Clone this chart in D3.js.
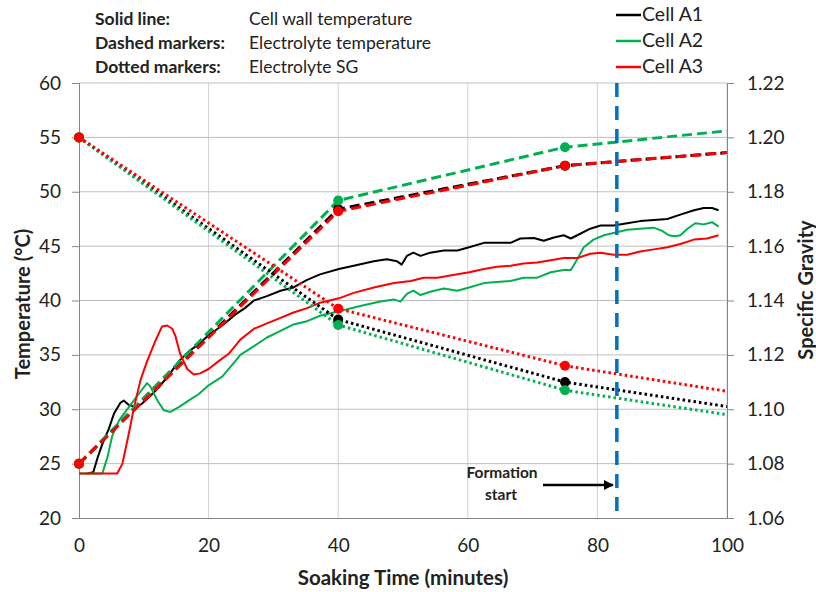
<!DOCTYPE html>
<html>
<head>
<meta charset="utf-8">
<script src="https://cdn.jsdelivr.net/npm/d3@7"></script>
<style>
  body { margin: 0; background: #fff; }
  svg text { font-family: Lato, "Open Sans", sans-serif; fill: #222; }
</style>
</head>
<body>
<div class="chart"></div>
<script>
// series names
var cells = ["Cell A1", "Cell A2", "Cell A3"];

// cell wall temperature (solid lines)
var wallTimeA1 = [1.3, 2.2, 2.9, 3.6, 4.6, 5.4, 6.4, 6.9, 7.7, 8.7, 9.7, 10.8, 12.3, 13.8, 15.4, 16.9, 18.5, 20, 22.1, 24.1, 25.6, 27, 29, 31.1, 33.1, 35.2, 37.2, 40.1, 42.4, 45.5, 47.5, 49.1, 49.8, 50.6, 51.6, 52.7, 54.2, 56.3, 58.4, 60.2, 62.5, 64.5, 66.6, 68.1, 70.2, 71.7, 73.3, 74.8, 75.9, 76.9, 78.9, 80.5, 82.5, 84.6, 86.6, 88.7, 90.8, 92.8, 94.9, 96.4, 97.7, 98.7];
var wallTempA1 = [24.1, 24.2, 25.6, 26.8, 28.2, 29.6, 30.6, 30.8, 30.4, 30.2, 30.5, 31.1, 32.0, 33.1, 34.4, 35.3, 36.0, 36.8, 37.7, 38.7, 39.3, 40.0, 40.4, 40.9, 41.2, 41.9, 42.4, 42.9, 43.2, 43.6, 43.8, 43.6, 43.3, 44.1, 44.4, 44.1, 44.4, 44.6, 44.6, 44.9, 45.3, 45.3, 45.3, 45.7, 45.75, 45.5, 45.8, 46.0, 45.7, 46.0, 46.6, 46.9, 46.9, 47.1, 47.3, 47.4, 47.5, 47.9, 48.3, 48.5, 48.5, 48.3];

var wallTimeA2 = [0, 3.6, 4.4, 5.1, 6.2, 7.7, 9.2, 10.5, 11, 12.1, 13.1, 14.1, 15.4, 16.9, 18.5, 20, 22.1, 24.1, 24.9, 27, 29, 31.1, 33.1, 35.2, 37.2, 39.3, 41.4, 43.4, 46.5, 48.6, 49.6, 50.6, 51.6, 52.7, 54.2, 56.3, 58.4, 60.2, 62.5, 64.5, 66.6, 68.6, 70.7, 72.8, 74.8, 75.9, 76.9, 77.9, 79.4, 81, 82.5, 84.6, 86.6, 88.7, 90, 91, 92, 92.8, 93.9, 95.1, 96.4, 97.7, 98.7];
var wallTempA2 = [24.1, 24.1, 25.6, 27.5, 29.0, 30.2, 31.4, 32.4, 32.1, 30.8, 29.9, 29.75, 30.2, 30.8, 31.4, 32.2, 33.0, 34.4, 35.0, 35.8, 36.6, 37.2, 37.8, 38.1, 38.6, 38.9, 39.2, 39.5, 39.9, 40.1, 39.9, 40.6, 40.9, 40.5, 40.8, 41.1, 40.9, 41.2, 41.6, 41.7, 41.8, 42.1, 42.1, 42.6, 42.8, 42.8, 43.8, 44.9, 45.6, 46.0, 46.2, 46.5, 46.6, 46.7, 46.4, 46.0, 45.9, 46.0, 46.6, 47.1, 47.0, 47.2, 46.8];

var wallTimeA3 = [0, 5.9, 6.7, 7.7, 8.5, 9.5, 10.5, 11.8, 12.8, 13.6, 14.4, 14.9, 15.6, 16.7, 17.7, 18.7, 20, 21.5, 23.1, 24.9, 27, 29, 31.1, 33.1, 35.2, 37.2, 40.1, 42.4, 45.5, 48.6, 51.2, 53.2, 55.3, 57.3, 60.2, 62.5, 64.5, 66.6, 68.6, 70.7, 72.8, 74.8, 76.9, 78.9, 80.5, 82.5, 84.6, 86.6, 88.7, 90.8, 92.8, 94.9, 96.9, 98.7];
var wallTempA3 = [24.1, 24.1, 25.0, 27.8, 30.2, 32.7, 34.4, 36.3, 37.6, 37.7, 37.4, 36.7, 35.1, 33.7, 33.2, 33.3, 33.7, 34.4, 35.1, 36.4, 37.4, 37.9, 38.4, 38.9, 39.3, 39.8, 40.2, 40.7, 41.2, 41.6, 41.8, 42.1, 42.1, 42.3, 42.6, 42.9, 43.1, 43.2, 43.4, 43.5, 43.7, 43.9, 43.9, 44.3, 44.4, 44.2, 44.2, 44.5, 44.7, 44.9, 45.2, 45.6, 45.7, 46.0];

// electrolyte temperature (dashed) and SG (dotted), sampled at 0, 40, 75 min; last value is the line end at 100
var sampleTimes = [0, 40, 75, 100];
var measuredCount = 3;
var elecTempA1 = [25, 48.4, 52.4, 53.6];
var elecTempA2 = [25, 49.2, 54.1, 55.6];
var elecTempA3 = [25, 48.2, 52.4, 53.6];
var sgA1 = [1.200, 1.133, 1.110, 1.101];
var sgA2 = [1.200, 1.131, 1.107, 1.098];
var sgA3 = [1.200, 1.137, 1.116, 1.1066];

// axis ticks
var timeTicks = [0, 20, 40, 60, 80, 100];
var tempTicks = [20, 25, 30, 35, 40, 45, 50, 55, 60];
var sgTicks = [1.06, 1.08, 1.10, 1.12, 1.14, 1.16, 1.18, 1.20, 1.22];
var formationStart = 83;

var colors = ["#000000", "#00b050", "#ff0000"];

var width = 816, height = 592;
var plotLeft = 79, plotRight = 727, plotTop = 83, plotBottom = 518;

var svg = d3.select(".chart").append("svg")
    .attr("width", width)
    .attr("height", height);

var x = d3.scaleLinear().domain([0, 100]).range([plotLeft, plotRight]);
var y = d3.scaleLinear().domain([20, 60]).range([plotBottom, plotTop]);
var y2 = d3.scaleLinear().domain([1.06, 1.22]).range([plotBottom, plotTop]);

// grid
svg.append("g").selectAll("line").data(timeTicks.slice(1)).enter().append("line")
    .attr("x1", function(d) { return x(d); }).attr("x2", function(d) { return x(d); })
    .attr("y1", plotTop).attr("y2", plotBottom)
    .style("stroke", "#d0d0d0").style("stroke-width", 1);
svg.append("g").selectAll("line").data(tempTicks.slice(1)).enter().append("line")
    .attr("x1", plotLeft).attr("x2", plotRight)
    .attr("y1", function(d) { return y(d); }).attr("y2", function(d) { return y(d); })
    .style("stroke", "#bfbfbf").style("stroke-width", 1);

// axes
var xAxis = svg.append("g").attr("transform", "translate(0," + plotBottom + ")")
    .call(d3.axisBottom(x).tickValues(timeTicks).tickSize(0).tickPadding(21));
var yAxis = svg.append("g").attr("transform", "translate(" + plotLeft + ",0)")
    .call(d3.axisLeft(y).tickValues(tempTicks).tickSize(7).tickPadding(11));
var y2Axis = svg.append("g").attr("transform", "translate(" + plotRight + ",0)")
    .call(d3.axisRight(y2).tickValues(sgTicks).tickSize(7).tickPadding(13).tickFormat(d3.format(".2f")));
[xAxis, yAxis, y2Axis].forEach(function(a) {
    a.selectAll("path").style("stroke", "#868686");
    a.selectAll("line").style("stroke", "#868686");
    a.selectAll("text").style("font-size", "19px").style("fill", "#222");
});

svg.append("defs").append("clipPath").attr("id", "plot")
    .append("rect").attr("x", plotLeft).attr("y", plotTop - 6).attr("width", plotRight - plotLeft).attr("height", plotBottom - plotTop + 6);

var plot = svg.append("g").attr("clip-path", "url(#plot)");

// solid lines
var wallSeries = [
    d3.zip(wallTimeA1, wallTempA1),
    d3.zip(wallTimeA2, wallTempA2),
    d3.zip(wallTimeA3, wallTempA3)
];
var tempLine = d3.line().x(function(d) { return x(d[0]); }).y(function(d) { return y(d[1]); });
var sgLine = d3.line().x(function(d) { return x(d[0]); }).y(function(d) { return y2(d[1]); });

plot.selectAll(".wall").data(wallSeries).enter().append("path")
    .attr("class", "wall")
    .attr("d", tempLine)
    .style("fill", "none")
    .style("stroke", function(d, i) { return colors[i]; })
    .style("stroke-width", 2)
    .style("stroke-linejoin", "round");

// dashed electrolyte temperature
var elecSeries = [
    d3.zip(sampleTimes, elecTempA1),
    d3.zip(sampleTimes, elecTempA2),
    d3.zip(sampleTimes, elecTempA3)
];
plot.selectAll(".elec").data(elecSeries).enter().append("path")
    .attr("class", "elec")
    .attr("d", tempLine)
    .style("fill", "none")
    .style("stroke", function(d, i) { return colors[i]; })
    .style("stroke-width", 3)
    .style("stroke-dasharray", "10,5");

// dotted SG
var sgSeries = [
    d3.zip(sampleTimes, sgA1),
    d3.zip(sampleTimes, sgA2),
    d3.zip(sampleTimes, sgA3)
];
plot.selectAll(".sg").data(sgSeries).enter().append("path")
    .attr("class", "sg")
    .attr("d", sgLine)
    .style("fill", "none")
    .style("stroke", function(d, i) { return colors[i]; })
    .style("stroke-width", 3)
    .style("stroke-dasharray", "2.5,3");

// markers for measured points
elecSeries.forEach(function(s, i) {
    svg.append("g").selectAll("circle").data(s.slice(0, measuredCount)).enter().append("circle")
        .attr("cx", function(d) { return x(d[0]); })
        .attr("cy", function(d) { return y(d[1]); })
        .attr("r", 5)
        .style("fill", colors[i]);
});
sgSeries.forEach(function(s, i) {
    svg.append("g").selectAll("circle").data(s.slice(0, measuredCount)).enter().append("circle")
        .attr("cx", function(d) { return x(d[0]); })
        .attr("cy", function(d) { return y2(d[1]); })
        .attr("r", 5)
        .style("fill", colors[i]);
});

// formation start
svg.append("line")
    .attr("x1", x(formationStart)).attr("x2", x(formationStart))
    .attr("y1", plotTop).attr("y2", plotBottom - 4)
    .style("stroke", "#0070c0").style("stroke-width", 3.5)
    .style("stroke-dasharray", "14,9");

svg.append("defs").append("marker").attr("id", "arrow")
    .attr("viewBox", "0 0 10 10").attr("refX", 9).attr("refY", 5)
    .attr("markerWidth", 4).attr("markerHeight", 4).attr("orient", "auto")
  .append("path").attr("d", "M0,0L10,5L0,10z").style("fill", "#000");
svg.append("line")
    .attr("x1", 543).attr("x2", x(formationStart) - 4)
    .attr("y1", 485).attr("y2", 485)
    .style("stroke", "#000").style("stroke-width", 2.5)
    .attr("marker-end", "url(#arrow)");
svg.append("text").attr("x", 502).attr("y", 478).attr("text-anchor", "middle")
    .style("font-size", "15.5px").style("font-weight", "bold").text("Formation");
svg.append("text").attr("x", 501).attr("y", 500).attr("text-anchor", "middle")
    .style("font-size", "15.5px").style("font-weight", "bold").text("start");

// axis titles
svg.append("text").attr("x", 403).attr("y", 585).attr("text-anchor", "middle")
    .style("font-size", "20.5px").style("font-weight", "bold").text("Soaking Time (minutes)");
svg.append("text").attr("transform", "translate(30,304) rotate(-90)").attr("text-anchor", "middle")
    .style("font-size", "20px").style("font-weight", "bold").text("Temperature (°C)");
svg.append("text").attr("transform", "translate(813,290) rotate(-90)").attr("text-anchor", "middle")
    .style("font-size", "20px").style("font-weight", "bold").text("Specific Gravity");

// top left notes
var noteKeys = ["Solid line:", "Dashed markers:", "Dotted markers:"];
var noteVals = ["Cell wall temperature", "Electrolyte temperature", "Electrolyte SG"];
noteKeys.forEach(function(k, i) {
    svg.append("text").attr("x", 95).attr("y", 25 + i * 24)
        .style("font-size", "17.5px").style("font-weight", "bold").text(k);
    svg.append("text").attr("x", 249).attr("y", 25 + i * 24)
        .style("font-size", "17.5px").text(noteVals[i]);
});

// legend
cells.forEach(function(c, i) {
    svg.append("line").attr("x1", 616).attr("x2", 641)
        .attr("y1", 15 + i * 26).attr("y2", 15 + i * 26)
        .style("stroke", colors[i]).style("stroke-width", 2.5);
    svg.append("text").attr("x", 642).attr("y", 21 + i * 26)
        .style("font-size", "19.5px").text(c);
});
</script>
</body>
</html>
